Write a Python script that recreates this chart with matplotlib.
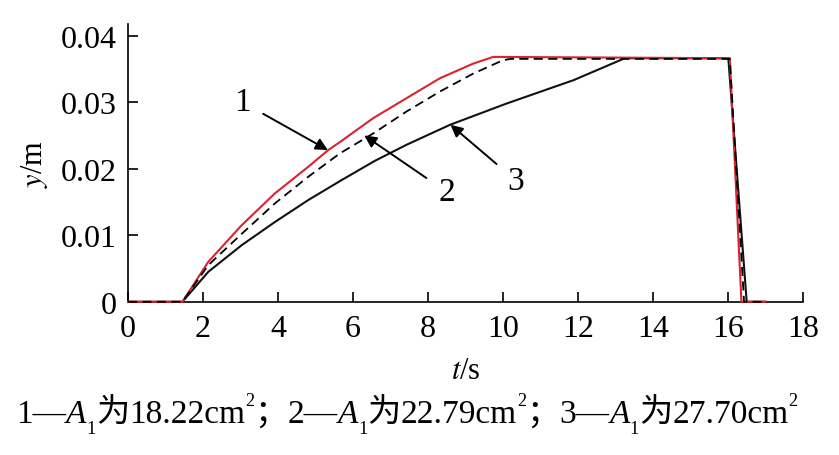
import matplotlib.pyplot as plt
import numpy as np

plt.rcParams['font.family'] = ['Liberation Serif', 'Noto Sans CJK SC']
plt.rcParams['mathtext.fontset'] = 'stix'

# curve 1 (red), A1 = 18.22 cm2
t1 = [0, 1.45, 2.14, 3.03, 3.92, 4.81, 5.34, 5.65, 6.54, 7.43, 8.32, 9.21, 9.74, 16.05, 16.36, 17.0]
y1 = [0, 0, 0.0060, 0.0115, 0.0163, 0.0203, 0.0228, 0.0240, 0.0276, 0.0306, 0.0336, 0.0358, 0.0368, 0.0366, 0, 0]
# curve 2 (dashed), A1 = 22.79 cm2
t2 = [0, 1.45, 2.14, 3.03, 3.92, 4.81, 5.65, 6.54, 7.43, 8.32, 9.21, 10.0, 10.2, 16.05, 16.43, 17.0]
y2 = [0, 0, 0.0055, 0.0102, 0.0148, 0.0188, 0.0223, 0.0253, 0.0286, 0.0316, 0.0343, 0.0363, 0.0365, 0.0365, 0, 0]
# curve 3 (black), A1 = 27.70 cm2
t3 = [0, 1.45, 2.14, 3.03, 3.92, 4.81, 5.70, 6.59, 7.43, 8.59, 10.1, 11.88, 13.25, 16.01, 16.5, 17.0]
y3 = [0, 0, 0.0045, 0.0085, 0.0120, 0.0153, 0.0183, 0.0212, 0.0236, 0.0266, 0.0298, 0.0333, 0.0366, 0.0366, 0, 0]

caption = [('1—', 'n'), ('A', 'i'), ('1', 'sub'), ('为', 'n'), ('18.22cm', 'n'), ('2', 'sup'), ('；', 'n'),
           ('2—', 'n'), ('A', 'i'), ('1', 'sub'), ('为', 'n'), ('22.79cm', 'n'), ('2', 'sup'), ('；', 'n'),
           ('3—', 'n'), ('A', 'i'), ('1', 'sub'), ('为', 'n'), ('27.70cm', 'n'), ('2', 'sup')]

fig = plt.figure(figsize=(8.39, 4.56), dpi=100)
ax = fig.add_axes([0.1526, 0.336, 0.8044, 0.61])

ax.plot(t1, y1, color='#d9232e', lw=1.5, clip_on=False, zorder=3)
ax.plot(t2, y2, color='black', lw=1.3, ls=(0, (5, 3)), clip_on=False, zorder=4)
ax.plot(t3, y3, color='#111111', lw=1.5, clip_on=False, zorder=2)

arr = dict(arrowstyle='-|>', color='black', lw=1.4, mutation_scale=18, shrinkA=8, shrinkB=0)
ax.annotate('1', xy=(5.33, 0.0228), xytext=(3.05, 0.0300), fontsize=24,
            ha='center', va='center', arrowprops=arr)
ax.annotate('2', xy=(6.3, 0.0250), xytext=(8.5, 0.0165), fontsize=24,
            ha='center', va='center', arrowprops=arr)
ax.annotate('3', xy=(8.6, 0.0266), xytext=(10.35, 0.0182), fontsize=24,
            ha='center', va='center', arrowprops=arr)

ax.set_xlim(0, 18)
ax.set_ylim(0, 0.0418)
ax.set_xticks(np.arange(0, 19, 2))
ax.set_yticks([0, 0.01, 0.02, 0.03, 0.04])
ax.set_yticklabels(['0', '0.01', '0.02', '0.03', '0.04'])
ax.tick_params(direction='in', length=7, width=1.2, labelsize=23)
ax.tick_params(axis='x', pad=9)
ax.tick_params(axis='y', pad=8)
for s in ['top', 'right']:
    ax.spines[s].set_visible(False)
for s in ['left', 'bottom']:
    ax.spines[s].set_linewidth(1.2)

ax.set_xlabel('$t$/s', fontsize=22, labelpad=9)
ax.set_ylabel('$y$/m', fontsize=22, labelpad=8)

# caption built from pieces, placed left to right
fig.canvas.draw()
r = fig.canvas.get_renderer()
fs = 24
cy = 0.072
arts = []
for s, kind in caption:
    if kind == 'i':
        a = fig.text(0, cy, s, fontsize=fs, style='italic', va='baseline')
    elif kind == 'sub':
        a = fig.text(0, cy - 0.024, s, fontsize=fs * 0.55, va='baseline')
    elif kind == 'sup':
        a = fig.text(0, cy + 0.038, s, fontsize=fs * 0.55, va='baseline')
    else:
        a = fig.text(0, cy, s, fontsize=fs, va='baseline')
    arts.append(a)
widths = [a.get_window_extent(r).width / fig.bbox.width for a in arts]
x = 0.485 - sum(widths) / 2
for a, w in zip(arts, widths):
    a.set_x(x)
    x += w

fig.savefig('out.png', dpi=100)
